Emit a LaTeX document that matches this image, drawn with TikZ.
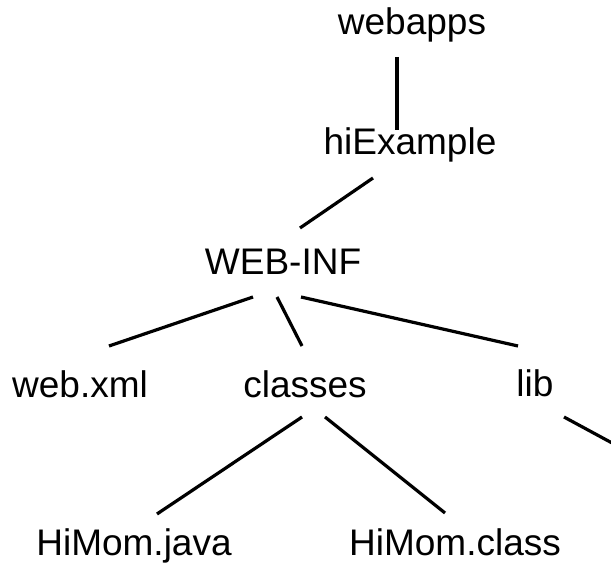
\documentclass[tikz,border=0pt]{standalone}
\usepackage{fontspec}
\setmainfont{Liberation Sans}
\usepackage{tikz}

\begin{document}
\begin{tikzpicture}[x=1pt,y=-1pt,
  dir/.style={inner sep=0pt,anchor=base,font=\fontsize{37}{44}\selectfont},
  link/.style={black,line width=3.2pt}]
\useasboundingbox (0,0) rectangle (611,572);

\node[dir] (webapps) at (412,35) {webapps};
\node[dir] (hiExample) at (410,155) {hiExample};
\node[dir] (webinf) at (283,275) {WEB-INF};

\node[dir] (webxml) at (80,397) {web.xml};
\node[dir] (classes) at (305,397) {classes};
\node[dir] (lib) at (535,396) {lib};

\node[dir] (java) at (134,555) {HiMom.java};
\node[dir] (class) at (455,555) {HiMom.class};

\coordinate (libmore) at (613,443.5);

\path[link] ([xshift=-15pt,yshift=-22pt]webapps.base) edge ([xshift=-13pt,yshift=25pt]hiExample.base);
\path[link] ([xshift=-37pt,yshift=-23pt]hiExample.base) edge ([xshift=17pt,yshift=47pt]webinf.base);

\path[link] ([xshift=-30pt,yshift=-22pt]webinf.base) edge ([xshift=29pt,yshift=51pt]webxml.base);
\path[link] ([xshift=-6pt,yshift=-22pt]webinf.base) edge ([xshift=-3pt,yshift=51pt]classes.base);
\path[link] ([xshift=18pt,yshift=-22pt]webinf.base) edge ([xshift=-17pt,yshift=50pt]lib.base);

\path[link] ([xshift=-3pt,yshift=-20pt]classes.base) edge ([xshift=23pt,yshift=41pt]java.base);
\path[link] ([xshift=20pt,yshift=-20pt]classes.base) edge ([xshift=-10pt,yshift=42pt]class.base);
\path[link] ([xshift=29pt,yshift=-21pt]lib.base) edge (libmore);
\end{tikzpicture}
\end{document}
